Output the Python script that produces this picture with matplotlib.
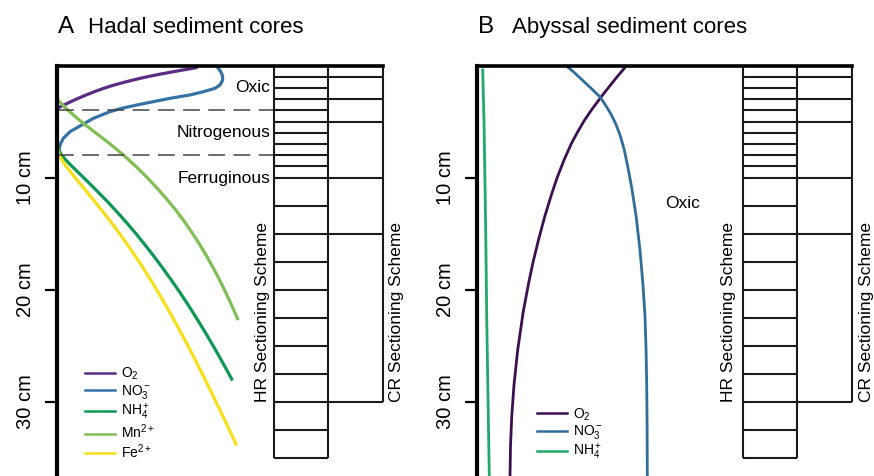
import matplotlib
matplotlib.use("Agg")
import matplotlib.pyplot as plt

plt.rcParams['font.family'] = ['Liberation Sans', 'DejaVu Sans']
plt.rcParams['mathtext.fontset'] = 'custom'
plt.rcParams['mathtext.rm'] = 'Liberation Sans'
plt.rcParams['mathtext.it'] = 'Liberation Sans:italic'
plt.rcParams['mathtext.bf'] = 'Liberation Sans:bold'

# ---------------- data (relative concentration vs depth in cm) ----------------
# Panel A: hadal
a_o2_depth = [0.2, 0.4, 0.6, 0.8, 1.0, 1.2, 1.4, 1.6, 1.8, 2.0, 2.3, 2.6, 2.9, 3.2, 3.5, 3.82]
a_o2_conc = [139, 126, 113.5, 101.5, 90.5, 80.5, 71.5, 63, 55, 48, 38.5, 30, 22, 14.5, 7.5, 0.3]

a_no3_depth = [0.0, 0.25, 0.55, 0.85, 1.3, 1.74, 2.04, 2.34, 2.63, 2.93, 3.23, 3.53,
               3.82, 4.12, 4.72, 5.31, 5.91, 6.5, 6.95, 7.4, 7.6]
a_no3_conc = [159, 161.3, 163.7, 165.3, 165.7, 163, 158, 146.3, 133, 113, 96.3, 79.7,
              64.7, 53, 36.3, 24.7, 13, 6.3, 3.7, 2.3, 1.5]

a_mn_depth = [3, 4, 5, 6, 7, 8, 9, 10, 11, 12, 13, 14, 15, 16, 17, 18, 19, 20, 21, 22, 22.6]
a_mn_conc = [0, 11, 24, 38.5, 53, 66.5, 78.8, 90.1, 100.6, 110.4, 119.6, 127.9, 135.6,
             142.8, 149.5, 155.8, 161.7, 167.3, 172.6, 177.6, 180.5]

a_nh4_depth = [6.5, 7.0, 7.5, 8.0, 8.5, 9, 10, 11, 12, 13, 14, 15, 16, 17, 18, 19, 20,
               21, 22, 23, 24, 25, 26, 27, 28]
a_nh4_conc = [0, 0.5, 1.7, 4.5, 9.5, 15, 26.5, 37.8, 48.8, 59.3, 69.3, 78.8, 87.9, 96.6,
              105, 113.1, 120.9, 128.4, 135.6, 142.6, 149.4, 156, 162.4, 168.6, 174.7]

a_fe_depth = [7.1, 7.6, 8.1, 8.6, 9, 10, 11, 12, 13, 14, 15, 16, 17, 18, 19, 20, 21, 22,
              23, 24, 25, 26, 27, 28, 29, 30, 31, 32, 33, 33.8]
a_fe_conc = [0, 0.8, 2.8, 6, 9.2, 18, 27.2, 36.4, 45.4, 54.1, 62.5, 70.5, 78.2, 85.6,
             92.7, 99.5, 106.1, 112.5, 118.7, 124.8, 130.8, 136.6, 142.3, 147.9, 153.4,
             158.8, 164.2, 169.5, 174.8, 179]

# Panel B: abyssal
b_o2_depth = [0.0, 1.0, 2.0, 2.8, 4.0, 5.0, 6.0, 7.0, 8.4, 10.0, 11.6, 13.5, 15.5,
              17.5, 19.4, 22.0, 25.4, 28.5, 31.4, 34.0, 36.7]
b_o2_conc = [150, 140.5, 131.5, 124.5, 114.5, 107, 100.5, 94.5, 87.5, 80.5, 74.5, 68, 62,
             56.5, 52, 46.5, 41, 37.3, 35, 33.8, 33.3]

b_no3_depth = [0.0, 0.5, 1.0, 1.5, 2.0, 2.8, 3.5, 4.3, 5.2, 6.2, 7.5, 9.0, 10.9,
               13.5, 16.5, 19.5, 22.4, 25.5, 28.4, 32.0, 36.7]
b_no3_conc = [89, 96, 102, 108, 114, 123.3, 128.5, 134, 139, 143.3, 147.5, 151, 155,
              159.5, 163.3, 166.2, 168.3, 169.4, 170, 170.4, 170.6]

b_nh4_depth = [0.4, 5.0, 10.5, 16.0, 22.4, 29.0, 36.7]
b_nh4_conc = [6, 7.3, 8.3, 9.2, 10, 11.2, 12.6]

# sectioning schemes (slice boundaries, cm)
hr_edges = [0, 1, 2, 3, 4, 5, 6, 7, 8, 9, 10, 12.5, 15, 17.5, 20, 22.5, 25, 27.5, 30, 32.5, 35]
cr_edges = [0, 1, 3, 5, 10, 15, 30]

depth_ticks = [10, 20, 30]
depth_ticklabels = ['10 cm', '20 cm', '30 cm']

lab_o2 = r'O$_2$'
lab_no3 = r'NO$_3^-$'
lab_nh4 = r'NH$_4^+$'
lab_mn = r'Mn$^{2+}$'
lab_fe = r'Fe$^{2+}$'

# ---------------- figure ----------------
W, H = 874, 476
fig = plt.figure(figsize=(W / 100, H / 100), dpi=100)

top_px = 65.5
px_per_cm = 11.2
ymax = (H - top_px) / px_per_cm


def make_axes(left_px, width_px):
    ax = fig.add_axes([left_px / W, 0, width_px / W, (H - top_px) / H])
    ax.set_xlim(0, width_px)
    ax.set_ylim(ymax, 0)
    for s in ['right', 'bottom']:
        ax.spines[s].set_visible(False)
    ax.spines['left'].set_linewidth(3)
    ax.spines['top'].set_linewidth(2.6)
    ax.set_xticks([])
    ax.set_yticks(depth_ticks)
    ax.set_yticklabels(depth_ticklabels, rotation=90, va='center', fontsize=14.5)
    ax.tick_params(axis='y', direction='out', length=8.5, width=1.6, pad=7)
    ax.patch.set_alpha(0)
    return ax


def draw_scheme(ax, hr_x0, hr_x1, cr_x1):
    kw = dict(color='#1a1a1a', lw=1.5, clip_on=False)
    ax.hlines(hr_edges, hr_x0, hr_x1, **kw)
    ax.vlines([hr_x0, hr_x1], 0, hr_edges[-1], **kw)
    ax.hlines(cr_edges, hr_x1, cr_x1, **kw)
    ax.vlines([cr_x1], 0, cr_edges[-1], **kw)


leg_kw = dict(loc='upper left', frameon=False, fontsize=10, handlelength=2.15,
              handletextpad=0.45, labelspacing=0.06, borderpad=0, borderaxespad=0)

# ---- Panel A ----
axA = make_axes(57, 326)
lwA = 2.3
axA.plot(a_o2_conc, a_o2_depth, color='#5b2c83', lw=lwA, label=lab_o2)
axA.plot(a_no3_conc, a_no3_depth, color='#3572a5', lw=lwA, label=lab_no3)
axA.plot(a_nh4_conc, a_nh4_depth, color='#0e9856', lw=lwA, label=lab_nh4)
axA.plot(a_mn_conc, a_mn_depth, color='#80bf55', lw=lwA, label=lab_mn)
axA.plot(a_fe_conc, a_fe_depth, color='#f7e01a', lw=lwA, label=lab_fe)

axA.hlines([4, 8], 0, 217, colors='#444444', lw=1.1, linestyles=(0, (11, 5.5)))
draw_scheme(axA, 217, 271, 326)

zfs = 12.5
axA.text(213.5, 2.0, 'Oxic', ha='right', va='center', fontsize=zfs)
axA.text(213.5, 6.0, 'Nitrogenous', ha='right', va='center', fontsize=zfs)
axA.text(213.5, 10.1, 'Ferruginous', ha='right', va='center', fontsize=zfs)
axA.text(205, 30, 'HR Sectioning Scheme', rotation=90, ha='center', va='bottom', fontsize=zfs)
axA.text(340, 30, 'CR Sectioning Scheme', rotation=90, ha='center', va='bottom', fontsize=zfs)

legA = axA.legend(bbox_to_anchor=(0.086, 0.268), **leg_kw)
for ln in legA.get_lines():
    ln.set_linewidth(1.8)

# ---- Panel B ----
axB = make_axes(476.7, 375)
lwB = 2.0
axB.plot(b_o2_conc, b_o2_depth, color='#3d0f50', lw=lwB, label=lab_o2)
axB.plot(b_no3_conc, b_no3_depth, color='#2f6e9b', lw=lwB, label=lab_no3)
axB.plot(b_nh4_conc, b_nh4_depth, color='#22a86a', lw=lwB, label=lab_nh4)
draw_scheme(axB, 266, 320.6, 375)

axB.text(188.3, 12.3, 'Oxic', ha='left', va='center', fontsize=zfs)
axB.text(251.3, 30, 'HR Sectioning Scheme', rotation=90, ha='center', va='bottom', fontsize=zfs)
axB.text(390, 30, 'CR Sectioning Scheme', rotation=90, ha='center', va='bottom', fontsize=zfs)

legB = axB.legend(bbox_to_anchor=(0.16, 0.170), **leg_kw)
for ln in legB.get_lines():
    ln.set_linewidth(1.8)

# ---- titles ----
base_y = (H - 33) / H
fig.text(58 / W, base_y, 'A', fontsize=17.5, va='baseline', ha='left')
fig.text(88 / W, base_y, 'Hadal sediment cores', fontsize=16, va='baseline', ha='left')
fig.text(478 / W, base_y, 'B', fontsize=17.5, va='baseline', ha='left')
fig.text(511.7 / W, base_y, 'Abyssal sediment cores', fontsize=16, va='baseline', ha='left')

fig.savefig('out.png', dpi=100)
